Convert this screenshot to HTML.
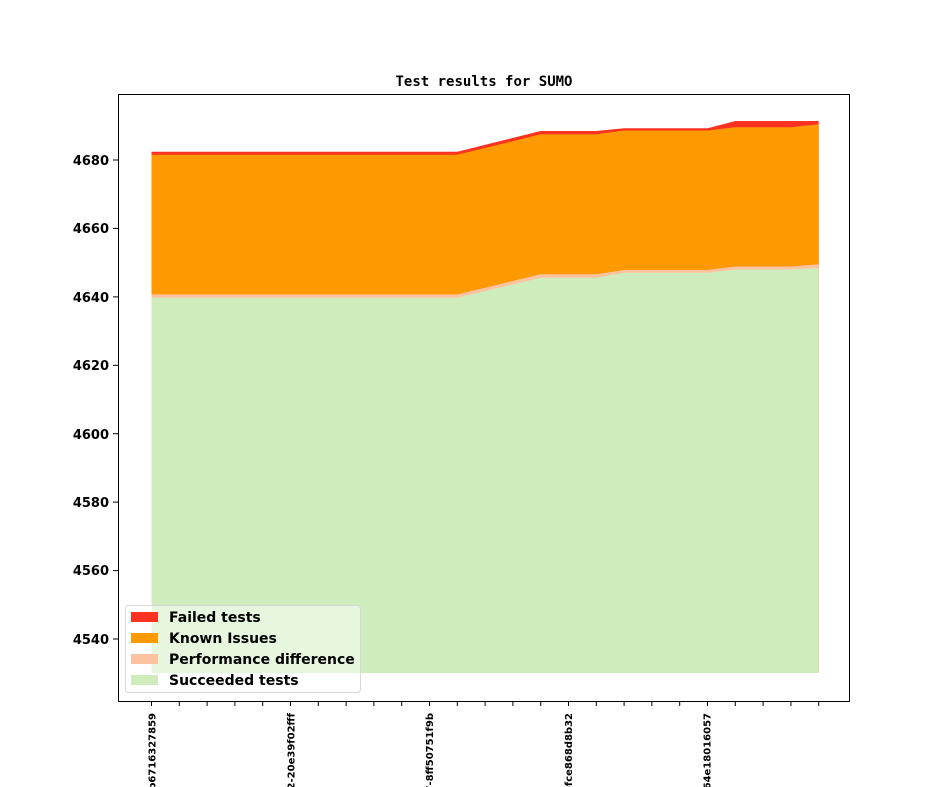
<!DOCTYPE html>
<html><head><meta charset="utf-8"><style>html,body{margin:0;padding:0;background:#fff;width:944px;height:787px;overflow:hidden;}svg{display:block;}</style></head>
<body>
<svg width="944" height="787" viewBox="0 0 944 787" xmlns="http://www.w3.org/2000/svg" overflow="hidden">
<defs><clipPath id="c"><rect x="0" y="700" width="944" height="87"/></clipPath></defs>
<rect width="944" height="787" fill="#fff"/>
<text x="484" y="86" text-anchor="middle" font-family="'DejaVu Sans Mono','Liberation Mono',monospace" font-weight="bold" font-size="14">Test results for SUMO</text>
<polygon fill="#fd3220" points="151.5,151.7 457.3,151.7 540.7,131 596.3,131 624.1,128.3 707.5,128.3 735.3,121 790.9,121 818.7,121 818.7,673 151.5,673"/>
<polygon fill="#fe9900" points="151.5,154.8 457.3,154.8 540.7,134.3 596.3,134.3 624.1,130.5 707.5,130.5 735.3,127.3 790.9,127.3 818.7,124.3 818.7,673 151.5,673"/>
<polygon fill="#fdc3a0" points="151.5,294.4 457.3,294.4 540.7,274.3 596.3,274.3 624.1,270 707.5,270 735.3,266.5 790.9,266.5 818.7,264.3 818.7,673 151.5,673"/>
<polygon fill="#cfecbd" points="151.5,297.8 457.3,297.8 540.7,277.7 596.3,277.7 624.1,272.8 707.5,272.8 735.3,269.4 790.9,269.4 818.7,268 818.7,673 151.5,673"/>
<rect x="118.5" y="94.5" width="731" height="607" fill="none" stroke="#000" stroke-width="1"/>
<g font-family="'DejaVu Sans','Liberation Sans',sans-serif" font-weight="bold" font-size="13" text-anchor="end" stroke="#000">
<line x1="113" x2="118" y1="160" y2="160"/><text stroke="none" x="109" y="165">4680</text>
<line x1="113" x2="118" y1="228.4" y2="228.4"/><text stroke="none" x="109" y="233">4660</text>
<line x1="113" x2="118" y1="296.9" y2="296.9"/><text stroke="none" x="109" y="302">4640</text>
<line x1="113" x2="118" y1="365.3" y2="365.3"/><text stroke="none" x="109" y="370">4620</text>
<line x1="113" x2="118" y1="433.7" y2="433.7"/><text stroke="none" x="109" y="439">4600</text>
<line x1="113" x2="118" y1="502.1" y2="502.1"/><text stroke="none" x="109" y="507">4580</text>
<line x1="113" x2="118" y1="570.6" y2="570.6"/><text stroke="none" x="109" y="575">4560</text>
<line x1="113" x2="118" y1="639" y2="639"/><text stroke="none" x="109" y="644">4540</text>
</g>
<g stroke="#000" stroke-width="1">
<line x1="151.5" x2="151.5" y1="702" y2="706"/><line x1="179.3" x2="179.3" y1="702" y2="706"/><line x1="207.1" x2="207.1" y1="702" y2="706"/><line x1="234.9" x2="234.9" y1="702" y2="706"/><line x1="262.7" x2="262.7" y1="702" y2="706"/><line x1="290.5" x2="290.5" y1="702" y2="706"/><line x1="318.3" x2="318.3" y1="702" y2="706"/><line x1="346.1" x2="346.1" y1="702" y2="706"/><line x1="373.9" x2="373.9" y1="702" y2="706"/><line x1="401.7" x2="401.7" y1="702" y2="706"/><line x1="429.5" x2="429.5" y1="702" y2="706"/><line x1="457.3" x2="457.3" y1="702" y2="706"/><line x1="485.1" x2="485.1" y1="702" y2="706"/><line x1="512.9" x2="512.9" y1="702" y2="706"/><line x1="540.7" x2="540.7" y1="702" y2="706"/><line x1="568.5" x2="568.5" y1="702" y2="706"/><line x1="596.3" x2="596.3" y1="702" y2="706"/><line x1="624.1" x2="624.1" y1="702" y2="706"/><line x1="651.9" x2="651.9" y1="702" y2="706"/><line x1="679.7" x2="679.7" y1="702" y2="706"/><line x1="707.5" x2="707.5" y1="702" y2="706"/><line x1="735.3" x2="735.3" y1="702" y2="706"/><line x1="763.1" x2="763.1" y1="702" y2="706"/><line x1="790.9" x2="790.9" y1="702" y2="706"/><line x1="818.7" x2="818.7" y1="702" y2="706"/>
</g>
<g clip-path="url(#c)" font-family="'DejaVu Sans','Liberation Sans',sans-serif" font-weight="bold" font-size="10" text-anchor="end">
<text transform="translate(155.5,713) rotate(-90)">0.32.0-1-gb6716327859</text>
<text transform="translate(294.3,713) rotate(-90)">0.32.0-12-20e39f02fff</text>
<text transform="translate(433.1,713) rotate(-90)">0.32.0-27-8ff50751f9b</text>
<text transform="translate(571.9,713) rotate(-90)">0.32.0-41-fce868d8b32</text>
<text transform="translate(710.7,713) rotate(-90)">0.32.0-5-g64e18016057</text>
</g>
<rect x="125.5" y="605.5" width="235" height="87" rx="3" fill="#fff" fill-opacity="0.5" stroke="#d8d8d8"/>
<rect x="131" y="612" width="27" height="10" fill="#fd3220"/>
<rect x="131" y="633" width="27" height="10" fill="#fe9900"/>
<rect x="131" y="654" width="27" height="10" fill="#fdc3a0"/>
<rect x="131" y="675" width="27" height="10" fill="#cfecbd"/>
<g font-family="'DejaVu Sans','Liberation Sans',sans-serif" font-weight="bold" font-size="14">
<text x="169" y="622">Failed tests</text>
<text x="169" y="643">Known Issues</text>
<text x="169" y="664">Performance difference</text>
<text x="169" y="685">Succeeded tests</text>
</g>
</svg>
</body></html>
